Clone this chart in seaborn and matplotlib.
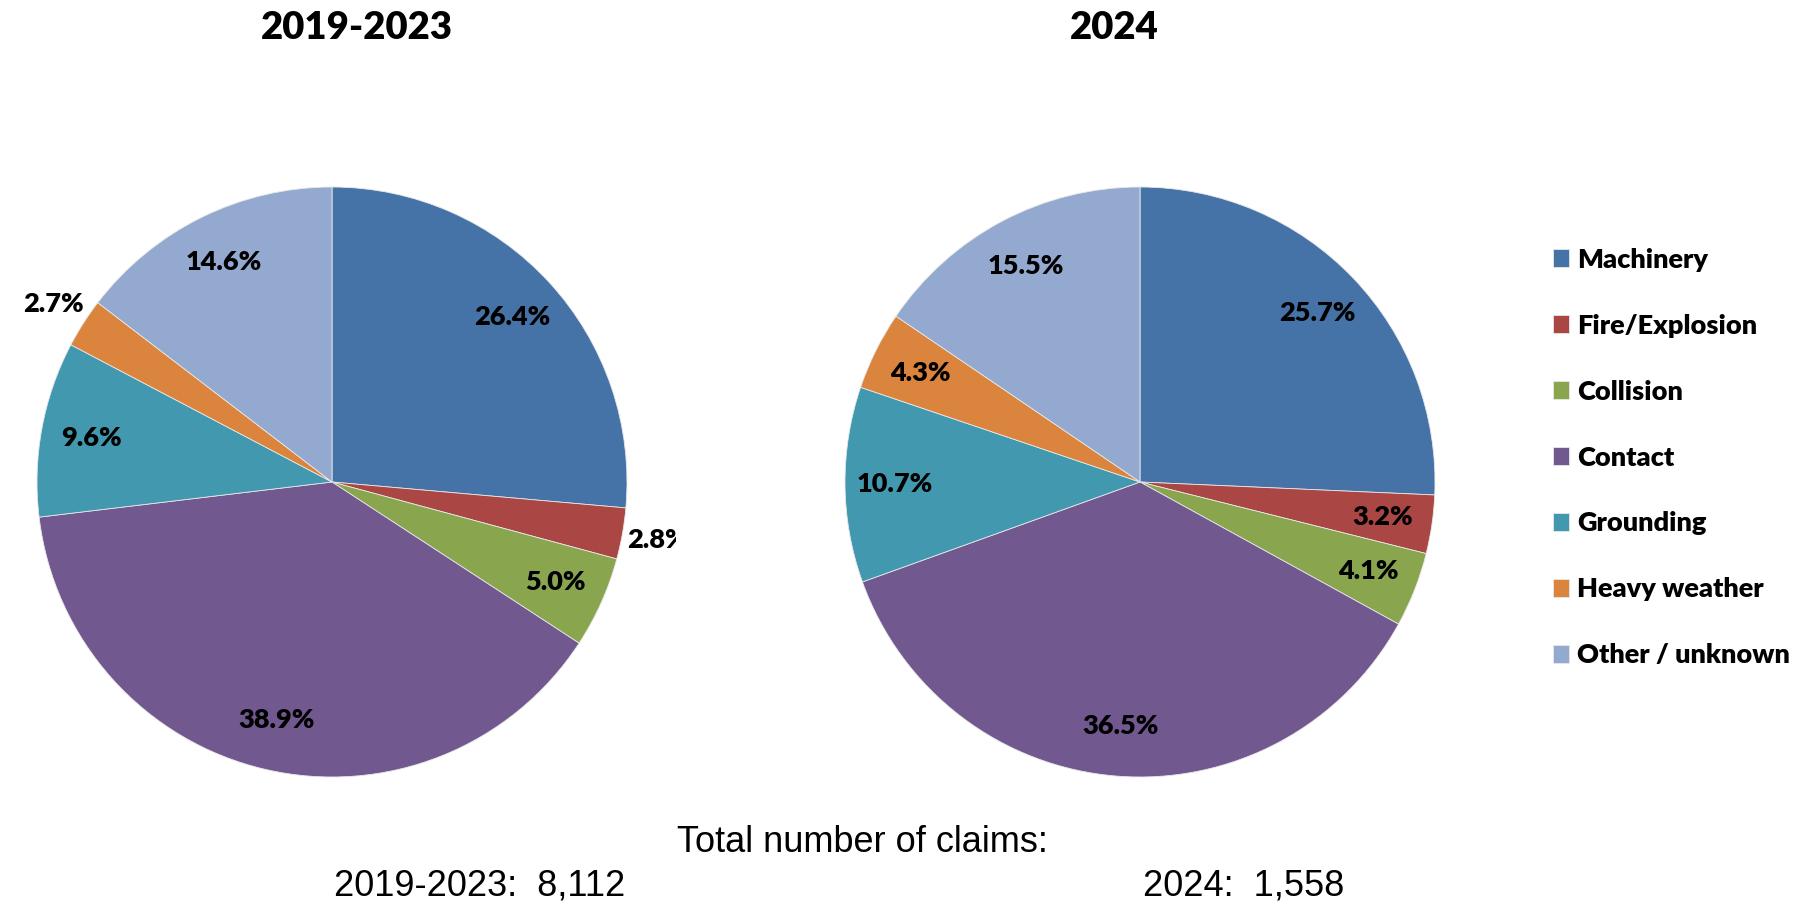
import numpy as np
import matplotlib
matplotlib.use('Agg')
import matplotlib.pyplot as plt
import seaborn as sns

# 데이터
categories = ['Machinery', 'Fire/Explosion', 'Collision', 'Contact',
              'Grounding', 'Heavy weather', 'Other / unknown']
share_2019_2023 = [26.4, 2.8, 5.0, 38.9, 9.6, 2.7, 14.6]
share_2024 = [25.7, 3.2, 4.1, 36.5, 10.7, 4.3, 15.5]
period_titles = ['2019-2023', '2024']
claim_totals = ['8,112', '1,558']

colors = sns.color_palette(['#4572A7', '#AA4643', '#89A54E', '#71588F',
                            '#4198AF', '#DB843D', '#93A9CF'])

sns.set_theme(style='white')
plt.rcParams['font.family'] = ['Lato', 'DejaVu Sans']
plt.rcParams['text.color'] = 'black'

# 레이아웃 (픽셀 기준)
W, H = 1795, 901
R_PX = 295
CY = 482
TOP, BOTTOM = 100, 820

fig = plt.figure(figsize=(W / 100, H / 100), dpi=100)
fig.patch.set_facecolor('white')


def make_pie(x0, x1, cx, values):
    ax = fig.add_axes([x0 / W, (H - BOTTOM) / H, (x1 - x0) / W, (BOTTOM - TOP) / H])
    wedges, _ = ax.pie(values, colors=colors, startangle=90, counterclock=False,
                       radius=1, wedgeprops=dict(edgecolor='#e8e8e8', linewidth=0.6))
    ax.set_aspect('auto')
    ax.set_xlim((x0 - cx) / R_PX, (x1 - cx) / R_PX)
    ax.set_ylim(-(BOTTOM - CY) / R_PX, (CY - TOP) / R_PX)
    ax.axis('off')
    for w, v in zip(wedges, values):
        ang = np.deg2rad((w.theta1 + w.theta2) / 2)
        r = 1.12 if v < 3 else 0.83
        ax.text(r * np.cos(ang), r * np.sin(ang), f'{v:.1f}%', ha='center', va='center',
                fontsize=19.5, fontweight='heavy', color='black', clip_on=True)
    return wedges


wedges = make_pie(0, 676, 332, share_2019_2023)
make_pie(800, 1480, 1140, share_2024)

# 제목
for title, x in zip(period_titles, [357, 1114]):
    fig.text(x / W, 1 - 39 / H, title, ha='center', va='baseline',
             fontsize=27.5, fontweight='heavy')

# 범례
fig.legend(wedges, categories, loc='center left', bbox_to_anchor=(1553 / W, 1 - 457.5 / H),
           frameon=False, borderpad=0, borderaxespad=0, handlelength=0.6, handleheight=0.64,
           handletextpad=0.3, labelspacing=1.55, labelcolor='black',
           prop=dict(family=['Lato', 'DejaVu Sans'], weight='heavy', size=19.5))

# 하단 텍스트
fig.text(862 / W, 1 - 852 / H, 'Total number of claims:', ha='center', va='baseline',
         fontsize=26, family=['Liberation Sans', 'DejaVu Sans'])
for title, total, x in zip(period_titles, claim_totals, [480, 1244]):
    fig.text(x / W, 1 - 896 / H, f'{title}:  {total}', ha='center', va='baseline',
             fontsize=26, family=['Liberation Sans', 'DejaVu Sans'])

fig.savefig('out.png', dpi=100)
